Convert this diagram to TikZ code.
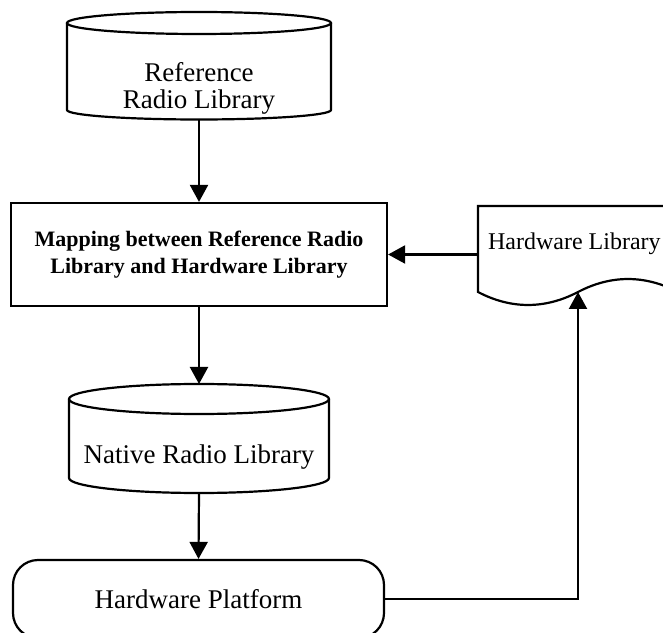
\documentclass[tikz,border=0pt]{standalone}
\usepackage{fontspec}
\setmainfont{Liberation Serif}
\usetikzlibrary{arrows.meta}
\begin{document}
\begin{tikzpicture}[x=1pt,y=1pt,line width=2.2pt,
  arr/.style={-{Triangle[length=17pt,width=18pt]},line width=2.2pt},
  lbl/.style={font=\fontsize{27}{27}\selectfont,inner sep=0pt},
  hidden/.style={inner sep=0pt,outer sep=0pt}]
\useasboundingbox (0,0) rectangle (663,632);
% Reference Radio Library (cylinder)
\node[hidden,minimum width=264pt,minimum height=107pt] (ref) at (199,566.5) {};
\draw (199,609) ellipse [x radius=132pt,y radius=11pt];
\draw (67,609) -- (67,522) arc[start angle=180,end angle=360,x radius=132pt,y radius=9.5pt] -- (331,609);
\node[lbl,anchor=base] at (199,550) {Reference};
\node[lbl,anchor=base] at (199,523) {Radio Library};
% Mapping box
\node[draw,minimum width=376pt,minimum height=103pt,inner sep=0pt,align=center,
  font=\bfseries\fontsize{22}{27}\selectfont] (map) at (199,377.5)
  {Mapping between Reference Radio\\Library and Hardware Library};
% Native Radio Library (cylinder)
\node[hidden,minimum width=260pt,minimum height=109pt] (native) at (199,193.5) {};
\draw (199,233) ellipse [x radius=130pt,y radius=15pt];
\draw (69,233) -- (69,154) arc[start angle=180,end angle=360,x radius=130pt,y radius=15pt] -- (329,233);
\node[lbl,anchor=base] at (199,169) {Native Radio Library};
% Hardware Platform
\node[draw,rounded corners=25pt,minimum width=371pt,minimum height=78pt,lbl] (plat) at (198.5,33) {Hardware Platform};
% Hardware Library (document)
\node[hidden,minimum width=200pt,minimum height=86pt] (hwlib) at (578,383) {};
\draw (478,340) -- (478,426) -- (678,426) -- (678,340)
  .. controls (645,357.3) and (611,357.3) .. (578,340)
  .. controls (545,322.7) and (511,322.7) .. (478,340) -- cycle;
\node[font=\fontsize{24}{24}\selectfont,inner sep=0pt,anchor=base west] at (487,382) {Hardware Library};
\coordinate (wave) at (578,340);
% connectors
\draw[arr] (ref.south) -- (map.north);
\draw[arr] (map.south) -- (native.north);
\draw[arr] (native.south) -- (plat.north);
\draw[arr] (hwlib.west |- map.east) -- (map.east);
\draw[arr] (plat.east) -| (wave);
\end{tikzpicture}
\end{document}
